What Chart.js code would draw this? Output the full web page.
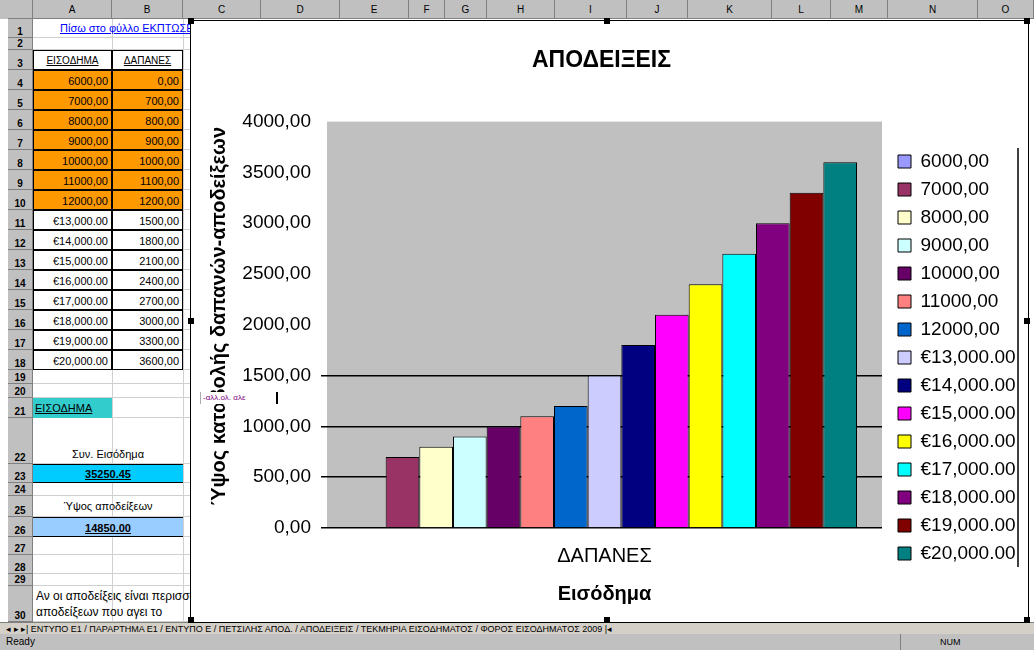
<!DOCTYPE html>
<html><head><meta charset="utf-8">
<script src="https://cdn.jsdelivr.net/npm/chart.js@4.4.0/dist/chart.umd.min.js"></script>
<style>
html,body{margin:0;padding:0;background:#fff;width:1034px;height:650px;overflow:hidden;font-family:"Liberation Sans",Arial,sans-serif;}
#sheet{position:absolute;left:0;top:0;width:1034px;height:650px;}
.c{position:absolute;box-sizing:border-box;font-size:11px;white-space:nowrap;overflow:hidden;color:#000;}
#frame{position:absolute;left:190px;top:20px;width:837px;height:601px;border:1px solid #000;background:#fff;}
#frame canvas{position:absolute;left:0;top:0;}
.hd{position:absolute;width:6px;height:6px;background:#000;}
#note{position:absolute;left:200px;top:392px;width:78px;height:12px;background:#fff;color:#800080;font-size:8px;line-height:12px;border-right:2px solid #000;border-left:1px solid #aaa;padding-left:2px;box-sizing:border-box;}
</style></head><body>
<div id="sheet"></div>
<div id="frame"><canvas id="chart" width="837" height="601"></canvas></div>
<div id="note">-αλλ.ολ. αλε</div>
<script>
// ---------- data ----------
const categories = ['ΔΑΠΑΝΕΣ'];
const incomeLabels = ['6000,00','7000,00','8000,00','9000,00','10000,00','11000,00','12000,00',
  '€13,000.00','€14,000.00','€15,000.00','€16,000.00','€17,000.00','€18,000.00','€19,000.00','€20,000.00'];
const expenseValues = [0,700,800,900,1000,1100,1200,1500,1800,2100,2400,2700,3000,3300,3600];
const seriesColors = ['#9999FF','#993366','#FFFFCC','#CCFFFF','#660066','#FF8080','#0066CC','#CCCCFF',
  '#000080','#FF00FF','#FFFF00','#00FFFF','#800080','#800000','#008080'];
const chartTitle = 'ΑΠΟΔΕΙΞΕΙΣ';
const yTitle = 'Ύψος καταβολής δαπανών-αποδείξεων';
const xTitle = 'Εισόδημα';
const yMin = 0, yMax = 4000, yStep = 500;
const totalIncome = '35250.45';
const totalReceipts = '14850.00';

// ---------- spreadsheet background ----------
const sheet = document.getElementById('sheet');
function cell(x,y,w,h,css,text){
  const d=document.createElement('div');d.className='c';
  d.style.left=x+'px';d.style.top=y+'px';d.style.width=w+'px';d.style.height=h+'px';
  d.style.lineHeight=h+'px';
  if(css) d.style.cssText+=css;
  if(text!==undefined) d.textContent=text;
  sheet.appendChild(d);return d;
}
const colEdges=[8,33,112,183,261,340,409,445,487,555,627,688,772,831,888,978,1034];
const colNames=['A','B','C','D','E','F','G','H','I','J','K','L','M','N','O'];
cell(0,0,1034,19,'background:#c0c0c0;');
cell(8,0,25,19,'background:#c0c0c0;border-right:1px solid #808080;border-bottom:1px solid #808080;');
for(let i=1;i<colEdges.length-1;i++){
  cell(colEdges[i],0,colEdges[i+1]-colEdges[i],19,'background:#c0c0c0;border-right:1px solid #808080;border-bottom:1px solid #808080;text-align:center;font-size:10px;',colNames[i-1]);
}
const rows=[[1,19,19],[2,38,12],[3,50,20]];
for(let n=4;n<=18;n++) rows.push([n,70+20*(n-4),20]);
rows.push([19,370,14],[20,384,14],[21,398,20],[22,418,46],[23,464,19],[24,483,13],[25,496,21],[26,517,20],[27,537,18],[28,555,19],[29,574,12],[30,586,36]);
const rowTop={};
rows.forEach(([n,y,h])=>{
  rowTop[n]=[y,h];
  cell(8,y,25,h,'background:#c0c0c0;border-bottom:1px solid #808080;border-right:1px solid #808080;text-align:center;font-size:10px;font-weight:bold;line-height:'+(2*h-12)+'px;',String(n));
  cell(33,y,157,h,'border-bottom:1px solid #d0d0d0;');
});
[112,183].forEach(x=>cell(x,19,1,603,'background:#d0d0d0;'));
cell(60,19,130,19,'color:#0000ff;text-decoration:underline;','Πίσω στο φύλλο ΕΚΠΤΩΣΕΙΣ');
cell(33,50,79,20,'border:1px solid #000;text-align:center;text-decoration:underline;font-size:10px;','ΕΙΣΟΔΗΜΑ');
cell(112,50,71,20,'border:1px solid #000;text-align:center;text-decoration:underline;font-size:10px;','ΔΑΠΑΝΕΣ');
incomeLabels.forEach((lab,i)=>{
  const [y,h]=rowTop[4+i];
  const bg=i<7?'background:#FF9900;':'background:#fff;';
  cell(33,y,79,h,bg+'border:1px solid #000;text-align:right;padding-right:3px;',lab);
  cell(112,y,71,h,bg+'border:1px solid #000;text-align:right;padding-right:3px;',expenseValues[i].toFixed(2).replace('.',','));
});
cell(33,rowTop[21][0],79,20,'background:#33CCCC;text-decoration:underline;padding-left:2px;','ΕΙΣΟΔΗΜΑ');
cell(33,rowTop[22][0],150,46,'text-align:center;line-height:72px;','Συν. Εισόδημα');
cell(33,rowTop[23][0],150,19,'background:#00CCFF;text-align:center;font-weight:bold;text-decoration:underline;border-top:1px solid #000;border-bottom:1px solid #000;',totalIncome);
cell(33,rowTop[25][0],150,21,'text-align:center;','Ύψος αποδείξεων');
cell(33,rowTop[26][0],150,20,'background:#99CCFF;text-align:center;font-weight:bold;text-decoration:underline;border-top:1px solid #000;border-bottom:1px solid #000;',totalReceipts);
cell(36,588,154,16,'font-size:12px;line-height:16px;','Αν οι αποδείξεις είναι περισσότερες');
cell(36,604,154,16,'font-size:12px;line-height:16px;','αποδείξεων που αγει το');
cell(0,622,1034,12,'background:#d4d0c8;font-size:9px;line-height:12px;padding-left:6px;border-top:1px solid #808080;','◂ ▸ ▸|  ΕΝΤΥΠΟ Ε1 / ΠΑΡΑΡΤΗΜΑ Ε1 / ΕΝΤΥΠΟ Ε / ΠΕΤΣΙΛΗΣ ΑΠΟΔ. / ΑΠΟΔΕΙΞΕΙΣ / ΤΕΚΜΗΡΙΑ ΕΙΣΟΔΗΜΑΤΟΣ / ΦΟΡΟΣ ΕΙΣΟΔΗΜΑΤΟΣ 2009 |◂');
cell(0,634,1034,16,'background:#c0c0c0;font-size:10px;line-height:16px;padding-left:6px;','Ready');
cell(900,634,1,16,'background:#808080;');cell(940,636,40,12,'font-size:9px;line-height:12px;','NUM');

// handles of the selected chart
[[188,18],[604,18],[1024,18],[188,318],[1024,318],[188,617],[604,617],[1024,617]].forEach(([x,y])=>{
  const d=document.createElement('div');d.className='hd';d.style.left=x+'px';d.style.top=y+'px';document.body.appendChild(d);
});

// ---------- chart ----------
Chart.defaults.font.family='"Liberation Sans", Arial, sans-serif';
Chart.defaults.color='#000';

const plotBg={id:'plotBg',beforeDraw(chart){
  const {ctx,chartArea:a}=chart;ctx.save();ctx.fillStyle='#C0C0C0';
  ctx.fillRect(a.left,a.top,a.right-a.left,a.bottom-a.top);ctx.restore();
}};
const legendPlace={id:'legendPlace',afterLayout(chart){
  const lg=chart.legend;const dx=chart.chartArea.right+7-lg.left;lg.left+=dx;lg.right+=dx;
},afterDraw(chart){
  const ctx=chart.ctx;ctx.save();ctx.strokeStyle='#000';ctx.lineWidth=1.5;
  ctx.beginPath();ctx.moveTo(827,127);ctx.lineTo(827,546);ctx.stroke();ctx.restore();
}};

const datasets=incomeLabels.map((lab,i)=>({
  label:lab,data:[expenseValues[i]],backgroundColor:seriesColors[i],
  borderColor:'#000',borderWidth:1,borderSkipped:'bottom'
}));

new Chart(document.getElementById('chart'),{
  type:'bar',
  data:{labels:categories,datasets},
  options:{
    responsive:false,animation:false,devicePixelRatio:1,
    layout:{padding:{left:0,top:0,bottom:0,right:16}},
    datasets:{bar:{categoryPercentage:0.91,barPercentage:1}},
    plugins:{
      title:{display:true,text:chartTitle,color:'#000',font:{size:23,weight:'bold'},padding:{top:26,bottom:47}},
      legend:{position:'right',align:'start',maxWidth:130,
        title:{display:true,text:' ',font:{size:10},padding:{top:110,bottom:0}},
        labels:{color:'#000',font:{size:19},boxWidth:13,boxHeight:13,padding:9}},
      tooltip:{enabled:false}
    },
    scales:{
      x:{grid:{display:false,drawTicks:false},border:{display:false},
        ticks:{color:'#000',font:{size:20},padding:16},
        title:{display:true,text:xTitle,color:'#000',font:{size:20,weight:'bold'},padding:{top:0,bottom:16}},
        afterFit(s){s.height=94;}},
      y:{min:yMin,max:yMax,
        ticks:{stepSize:yStep,color:'#000',font:{size:19},padding:10,
          callback:v=>Number(v).toFixed(2).replace('.',',')},
        grid:{color:c=>(c.tick&&c.tick.value<=1500)?'#000':'rgba(0,0,0,0)',lineWidth:1.5,tickLength:6,drawTicks:true},
        border:{display:false},
        title:{display:true,text:'   '+yTitle,color:'#000',font:{size:20,weight:'bold'},padding:{top:16,bottom:0}},
        afterFit(s){s.width=136;}}
    }
  },
  plugins:[plotBg,legendPlace]
});
</script>
</body></html>
